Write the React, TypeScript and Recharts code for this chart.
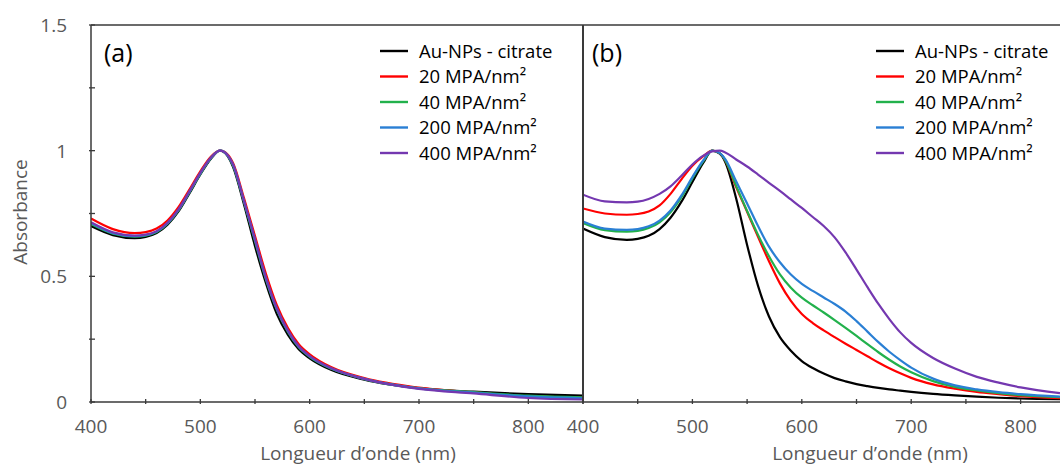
import React from 'react';
import { LineChart, Line, XAxis, YAxis, Legend } from 'recharts';

// ---------- data ----------
const seriesNames = ['Au-NPs - citrate', '20 MPA/nm²', '40 MPA/nm²', '200 MPA/nm²', '400 MPA/nm²'];
const seriesColors = ['#000000', '#ff0000', '#22b14c', '#2a7fd4', '#7438b0'];

// Panel (a)
const wavelengthsA = [400, 420, 440, 450, 460, 470, 480, 490, 500, 510, 518, 525, 530, 540, 550, 560, 570, 580, 590, 600, 620, 650, 700, 750, 800, 850];
const citrateA = [0.70, 0.664, 0.652, 0.657, 0.672, 0.705, 0.758, 0.83, 0.905, 0.97, 1.0, 0.978, 0.935, 0.785, 0.62, 0.473, 0.35, 0.268, 0.21, 0.174, 0.127, 0.089, 0.055, 0.041, 0.031, 0.025];
const mpa20A = [0.73, 0.688, 0.672, 0.676, 0.69, 0.722, 0.775, 0.845, 0.918, 0.978, 1.0, 0.985, 0.95, 0.81, 0.66, 0.51, 0.385, 0.295, 0.23, 0.19, 0.138, 0.095, 0.057, 0.038, 0.02, 0.013];
const mpa40A = [0.708, 0.67, 0.658, 0.662, 0.676, 0.709, 0.762, 0.834, 0.908, 0.972, 1.0, 0.98, 0.94, 0.795, 0.64, 0.488, 0.367, 0.28, 0.218, 0.18, 0.132, 0.091, 0.054, 0.039, 0.025, 0.018];
const mpa200A = [0.712, 0.672, 0.66, 0.664, 0.678, 0.711, 0.764, 0.836, 0.91, 0.973, 1.0, 0.981, 0.943, 0.798, 0.645, 0.492, 0.37, 0.283, 0.22, 0.182, 0.133, 0.092, 0.054, 0.037, 0.022, 0.015];
const mpa400A = [0.715, 0.675, 0.662, 0.666, 0.68, 0.713, 0.766, 0.838, 0.912, 0.974, 1.0, 0.982, 0.945, 0.80, 0.648, 0.495, 0.372, 0.285, 0.222, 0.183, 0.134, 0.092, 0.052, 0.034, 0.016, 0.01];

// Panel (b)
const wavelengthsB = [400, 420, 440, 450, 460, 470, 480, 490, 500, 510, 518, 525, 530, 540, 550, 560, 570, 580, 590, 600, 610, 620, 630, 640, 650, 660, 670, 680, 690, 700, 720, 740, 760, 780, 800, 836];
const citrateB = [0.69, 0.656, 0.645, 0.649, 0.661, 0.688, 0.733, 0.797, 0.875, 0.952, 1.0, 0.988, 0.955, 0.81, 0.625, 0.462, 0.34, 0.258, 0.204, 0.163, 0.135, 0.113, 0.095, 0.082, 0.071, 0.063, 0.056, 0.05, 0.045, 0.04, 0.032, 0.026, 0.021, 0.017, 0.014, 0.011];
const mpa20B = [0.77, 0.75, 0.745, 0.748, 0.758, 0.782, 0.828, 0.886, 0.94, 0.978, 1.0, 0.99, 0.962, 0.855, 0.757, 0.657, 0.56, 0.472, 0.402, 0.35, 0.314, 0.285, 0.258, 0.232, 0.207, 0.182, 0.157, 0.134, 0.114, 0.096, 0.07, 0.053, 0.04, 0.031, 0.023, 0.015];
const mpa40B = [0.712, 0.684, 0.678, 0.681, 0.692, 0.715, 0.755, 0.815, 0.89, 0.958, 1.0, 0.99, 0.962, 0.86, 0.76, 0.665, 0.58, 0.508, 0.455, 0.415, 0.385, 0.356, 0.326, 0.295, 0.263, 0.23, 0.198, 0.168, 0.141, 0.118, 0.083, 0.06, 0.046, 0.035, 0.027, 0.019];
const mpa200B = [0.718, 0.69, 0.685, 0.688, 0.699, 0.722, 0.762, 0.822, 0.895, 0.962, 1.0, 0.99, 0.966, 0.878, 0.79, 0.70, 0.618, 0.556, 0.507, 0.47, 0.442, 0.416, 0.39, 0.36, 0.322, 0.28, 0.238, 0.20, 0.167, 0.137, 0.093, 0.066, 0.05, 0.039, 0.031, 0.021];
const mpa400B = [0.825, 0.798, 0.794, 0.797, 0.808, 0.828, 0.858, 0.90, 0.945, 0.98, 0.997, 1.0, 0.993, 0.965, 0.937, 0.905, 0.872, 0.84, 0.806, 0.772, 0.736, 0.70, 0.655, 0.595, 0.527, 0.457, 0.39, 0.33, 0.277, 0.235, 0.175, 0.133, 0.10, 0.077, 0.058, 0.035];

const xTicksA = [400, 450, 500, 550, 600, 650, 700, 750, 800, 850];
const xTicksB = [400, 450, 500, 550, 600, 650, 700, 750, 800];
const xLabelTicks = [400, 500, 600, 700, 800];
const yTicks = [0, 0.25, 0.5, 0.75, 1, 1.25, 1.5];
const yLabelTicks = [0, 0.5, 1, 1.5];

const xTitle = 'Longueur d’onde (nm)';
const yTitle = 'Absorbance';

const buildRows = (wl: number[], series: number[][]) =>
  wl.map((w, i) => {
    const row: Record<string, number> = { wl: w };
    series.forEach((s, k) => { row['s' + k] = s[i]; });
    return row;
  });

const rowsA = buildRows(wavelengthsA, [citrateA, mpa20A, mpa40A, mpa200A, mpa400A]);
const rowsB = buildRows(wavelengthsB, [citrateB, mpa20B, mpa40B, mpa200B, mpa400B]);

// ---------- styles ----------
const FONT = '"Open Sans", sans-serif';
const GRAY = '#595959';
const AXIS = '#3a3a3a';

const XTick = (props: any) => {
  const { x, y, payload } = props;
  const v = payload.value;
  return (
    <g>
      <line x1={x} x2={x} y1={y} y2={y - 5} stroke={AXIS} strokeWidth={1.3} />
      {xLabelTicks.includes(v) && (
        <text x={x} y={y + 29} textAnchor="middle" fill={GRAY} fontSize={19} fontFamily={FONT}>{v}</text>
      )}
    </g>
  );
};

const YTick = (props: any) => {
  const { x, y, payload } = props;
  const v = payload.value;
  return (
    <g>
      <line x1={x} x2={x + 6} y1={y} y2={y} stroke={AXIS} strokeWidth={1.3} />
      {yLabelTicks.includes(v) && (
        <text x={x - 22} y={y + 7} textAnchor="end" fill={GRAY} fontSize={19} fontFamily={FONT}>{v}</text>
      )}
    </g>
  );
};

const makeLegend = () => (props: any) => {
  const items = [...(props.payload || [])].sort(
    (a: any, b: any) => seriesNames.indexOf(a.value) - seriesNames.indexOf(b.value)
  );
  return (
    <svg width={200} height={135} style={{ display: 'block' }}>
      {items.map((p: any, i: number) => {
        const cy = 13 + i * 25.5;
        return (
          <g key={i}>
            <line x1={1} x2={29} y1={cy} y2={cy} stroke={p.color} strokeWidth={2.4} />
            <text x={40} y={cy + 6.5} fontSize={18.5} fontFamily={FONT} fill="#000">{p.value}</text>
          </g>
        );
      })}
    </svg>
  );
};

const xTitleContent = (cx: number) => (props: any) => {
  const { viewBox } = props;
  return (
    <text x={cx} y={viewBox.y + 57.5} textAnchor="middle" fill={GRAY} fontSize={19} fontFamily={FONT}>{xTitle}</text>
  );
};

const yTitleContent = () => (
  <text x={27} y={212} transform="rotate(-90 27 212)" textAnchor="middle" fill={GRAY} fontSize={19} fontFamily={FONT}>{yTitle}</text>
);

const renderLines = () =>
  seriesNames.map((name, k) => (
    <Line
      key={k}
      type="monotone"
      dataKey={'s' + k}
      name={name}
      stroke={seriesColors[k]}
      strokeWidth={2.2}
      dot={false}
      activeDot={false}
      isAnimationActive={false}
    />
  ));

export default function App() {
  return (
    <div style={{ position: 'absolute', left: 0, top: 0, width: 1060, height: 465, overflow: 'hidden', background: '#fff' }}>
      {/* Panel (a) */}
      <div style={{ position: 'absolute', left: 0, top: 0 }}>
        <LineChart width={600} height={465} data={rowsA} margin={{ top: 15, right: 7, left: 31, bottom: 23 }}>
          <XAxis
            dataKey="wl" type="number" domain={[400, 850]} allowDataOverflow
            ticks={xTicksA} interval={0} tickSize={0} tickLine={false} tick={<XTick />}
            height={40} axisLine={{ stroke: AXIS, strokeWidth: 1.5 }}
            label={{ value: xTitle, content: xTitleContent(358) }}
          />
          <XAxis xAxisId="top" orientation="top" type="number" domain={[400, 850]} tick={false} tickLine={false} height={10} axisLine={{ stroke: AXIS, strokeWidth: 1.5 }} />
          <YAxis
            type="number" domain={[0, 1.5]} allowDataOverflow ticks={yTicks} interval={0}
            tickSize={0} tickLine={false} tick={<YTick />} width={60}
            axisLine={{ stroke: AXIS, strokeWidth: 1.5 }}
            label={{ value: yTitle, content: yTitleContent }}
          />
          <YAxis yAxisId="right" orientation="right" type="number" domain={[0, 1.5]} tick={false} tickLine={false} width={10} axisLine={{ stroke: AXIS, strokeWidth: 1.5 }} />
          <Legend
            layout="vertical" align="center" verticalAlign="middle"
            wrapperStyle={{ left: 379, top: 38, width: 200, height: 135 }}
            content={makeLegend()}
          />
          {renderLines()}
        </LineChart>
      </div>

      {/* Panel (b) */}
      <div style={{ position: 'absolute', left: 540, top: 0 }}>
        <LineChart width={520} height={465} data={rowsB} margin={{ top: 15, right: 0, left: 33, bottom: 23 }}>
          <XAxis
            dataKey="wl" type="number" domain={[400, 836]} allowDataOverflow
            ticks={xTicksB} interval={0} tickSize={0} tickLine={false} tick={<XTick />}
            height={40} axisLine={{ stroke: AXIS, strokeWidth: 1.5 }}
            label={{ value: xTitle, content: xTitleContent(330) }}
          />
          <XAxis xAxisId="top" orientation="top" type="number" domain={[400, 836]} tick={false} tickLine={false} height={10} axisLine={{ stroke: AXIS, strokeWidth: 1.5 }} />
          <YAxis type="number" domain={[0, 1.5]} allowDataOverflow tick={false} tickLine={false} width={10} axisLine={{ stroke: AXIS, strokeWidth: 2 }} />
          <Legend
            layout="vertical" align="center" verticalAlign="middle"
            wrapperStyle={{ left: 335, top: 38, width: 200, height: 135 }}
            content={makeLegend()}
          />
          {renderLines()}
        </LineChart>
      </div>

      {/* Panel letters */}
      <svg width={1060} height={465} style={{ position: 'absolute', left: 0, top: 0, pointerEvents: 'none' }}>
        <text x={104} y={62} fontSize={25} fontFamily={FONT} fill="#000">(a)</text>
        <text x={592} y={62} fontSize={25} fontFamily={FONT} fill="#000">(b)</text>
      </svg>
    </div>
  );
}
